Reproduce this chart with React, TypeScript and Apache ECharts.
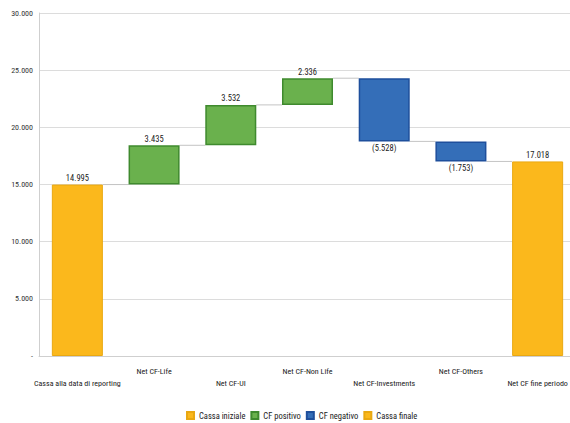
import React, { useEffect, useRef } from "react";
import * as echarts from "echarts";

const categories = [
  "Cassa alla data di reporting",
  "Net CF-Life",
  "Net CF-UI",
  "Net CF-Non Life",
  "Net CF-Investments",
  "Net CF-Others",
  "Net CF fine periodo",
];
const startCash = 14995;
const flows = [3435, 3532, 2336, -5528, -1753];
const endCash = 17018;
const legendNames = ["Cassa iniziale", "CF positivo", "CF negativo", "Cassa finale"];
const yTicks = [0, 5000, 10000, 15000, 20000, 25000, 30000];

const FONT = "'Roboto Condensed', 'Liberation Sans', sans-serif";
const fmt = (v: number) => Math.round(v).toString().replace(/\B(?=(\d{3})+(?!\d))/g, ".");

export default function App() {
  const ref = useRef<HTMLDivElement>(null);
  useEffect(() => {
    if (!ref.current) return;
    const chart = echarts.init(ref.current, undefined, { renderer: "svg" });
    const n = categories.length;
    const base: any[] = new Array(n).fill("-");
    const init: any[] = new Array(n).fill("-");
    const pos: any[] = new Array(n).fill("-");
    const neg: any[] = new Array(n).fill("-");
    const fin: any[] = new Array(n).fill("-");
    const levels: number[] = [startCash];
    base[0] = 0;
    init[0] = startCash;
    let cum = startCash;
    flows.forEach((f, k) => {
      const i = k + 1;
      if (f >= 0) {
        base[i] = cum;
        pos[i] = f;
      } else {
        base[i] = cum + f;
        neg[i] = -f;
      }
      cum += f;
      levels.push(cum);
    });
    base[n - 1] = 0;
    fin[n - 1] = endCash;
    const connectors = levels.map((l, i) => [i, l]);

    const lbl = (position: string, neg?: boolean) => ({
      show: true,
      position,
      distance: 2,
      fontSize: 8.5,
      fontFamily: FONT,
      color: "#222",
      formatter: (p: any) => (neg ? `(${fmt(p.value)})` : fmt(p.value)),
    });
    const barFrac = 0.665;
    const barW = `${barFrac * 100}%`;

    chart.setOption({
      animation: false,
      textStyle: { fontFamily: FONT },
      grid: {
        left: 39,
        top: 13,
        width: 537,
        height: 343,
        containLabel: false,
        outerBoundsMode: "none",
      },
      legend: {
        data: legendNames,
        top: 406,
        left: 181,
        icon: "rect",
        itemWidth: 7,
        itemHeight: 7,
        itemGap: 5,
        textStyle: { fontSize: 8.5, color: "#222", fontFamily: FONT },
      },
      xAxis: {
        type: "category",
        data: categories,
        axisLine: { lineStyle: { color: "#cfcfcf" } },
        axisTick: { show: false },
        axisLabel: {
          interval: 0,
          fontSize: 8,
          color: "#222",
          margin: 9,
          lineHeight: 12,
          fontFamily: FONT,
          hideOverlap: false,
          formatter: (v: string, i: number) => (i % 2 === 0 ? "\n" + v : v),
        },
      },
      yAxis: {
        type: "value",
        min: 0,
        max: 30000,
        interval: 5000,
        axisLine: { show: true, lineStyle: { color: "#cfcfcf" } },
        axisTick: { show: false },
        splitLine: { lineStyle: { color: "#dcdcdc" } },
        axisLabel: {
          fontSize: 8,
          color: "#333",
          margin: 6,
          fontFamily: FONT,
          formatter: (v: number) => (v === 0 ? "-" : yTicks.includes(v) ? fmt(v) : ""),
        },
      },
      series: [
        {
          name: "base",
          type: "bar",
          stack: "w",
          barWidth: barW,
          data: base,
          itemStyle: { color: "transparent" },
          emphasis: { disabled: true },
          silent: true,
        },
        {
          name: legendNames[0],
          type: "bar",
          stack: "w",
          barWidth: barW,
          data: init,
          itemStyle: { color: "#FBB81C", borderColor: "#E9A812", borderWidth: 1 },
          label: lbl("top"),
        },
        {
          name: legendNames[1],
          type: "bar",
          stack: "w",
          barWidth: barW,
          data: pos,
          itemStyle: { color: "#6AB14D", borderColor: "#3F8A2E", borderWidth: 1.5 },
          label: lbl("top"),
        },
        {
          name: legendNames[2],
          type: "bar",
          stack: "w",
          barWidth: barW,
          data: neg,
          itemStyle: { color: "#346EB8", borderColor: "#1E4F9C", borderWidth: 1.5 },
          label: lbl("bottom", true),
        },
        {
          name: legendNames[3],
          type: "bar",
          stack: "w",
          barWidth: barW,
          data: fin,
          itemStyle: { color: "#FBB81C", borderColor: "#E9A812", borderWidth: 1 },
          label: lbl("top"),
        },
        {
          name: "connectors",
          type: "custom",
          data: connectors,
          silent: true,
          z: 1,
          renderItem: (params: any, api: any) => {
            const i = api.value(0);
            const lvl = api.value(1);
            const p1 = api.coord([i, lvl]);
            const p2 = api.coord([i + 1, lvl]);
            const hw = (api.size([1, 0])[0] * barFrac) / 2;
            return {
              type: "line",
              shape: { x1: p1[0] + hw, y1: p1[1], x2: p2[0] - hw, y2: p2[1] },
              style: { stroke: "#c4c4c4", lineWidth: 1 },
            };
          },
        },
      ],
    });
    return () => chart.dispose();
  }, []);
  return (
    <div
      ref={ref}
      style={{ position: "fixed", left: 0, top: 0, width: 570, height: 423, background: "#fff" }}
    />
  );
}
